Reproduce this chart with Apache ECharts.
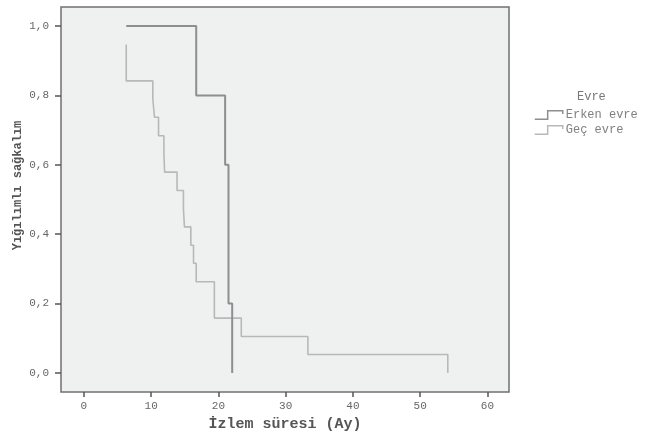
<!DOCTYPE html>
<html>
<head>
<meta charset="utf-8">
<script src="https://cdn.jsdelivr.net/npm/echarts@6/dist/echarts.min.js"></script>
<style>html,body{margin:0;padding:0;background:#fff;}#chart{width:656px;height:435px;}</style>
</head>
<body>
<div id="chart"></div>
<script>
// Kaplan-Meier data
const erkenTimes = [6.3, 16.7, 21.0, 21.5, 22.05];
const erkenSurv  = [1.0, 0.8, 0.6, 0.2, 0.0];
const gecTimes = [6.3, 6.3, 10.25, 10.5, 11.1, 11.9, 12.0, 13.85, 14.8, 14.95, 15.9, 16.3, 16.7, 19.4, 23.4, 33.3, 54.1];
const gecSurv  = [0.947, 0.842, 0.789, 0.737, 0.684, 0.632, 0.579, 0.526, 0.474, 0.421, 0.368, 0.316, 0.263, 0.158, 0.105, 0.053, 0.0];
const xTicks = [0, 10, 20, 30, 40, 50, 60];
const yTicks = [0, 0.2, 0.4, 0.6, 0.8, 1.0];
const seriesNames = ['Erken evre', 'Geç evre'];
const legendTitle = 'Evre';
const xTitle = 'İzlem süresi (Ay)';
const yTitle = 'Yığılımlı sağkalım';

const zip = (a, b) => a.map((v, i) => [v, b[i]]);
const mono = '"Liberation Mono", "DejaVu Sans Mono", monospace';
const stepIcon = 'path://M0,9 L12,9 L12,1 L26,1 L26,4';

const chart = echarts.init(document.getElementById('chart'));
chart.setOption({
  animation: false,
  backgroundColor: '#ffffff',
  title: {
    text: legendTitle, left: 572, top: 86,
    textStyle: { fontFamily: mono, fontSize: 12, fontWeight: 'normal', color: '#777' }
  },
  legend: {
    orient: 'vertical', left: 529, top: 104, itemGap: 3,
    itemWidth: 28, itemHeight: 9,
    textStyle: { fontFamily: mono, fontSize: 12, color: '#808080', padding: [0, 0, 0, -2] },
    data: [
      { name: seriesNames[0], icon: stepIcon, itemStyle: { color: 'transparent', borderColor: '#8e8e90', borderWidth: 1.5 } },
      { name: seriesNames[1], icon: stepIcon, itemStyle: { color: 'transparent', borderColor: '#b8b8ba', borderWidth: 1.5 } }
    ]
  },
  grid: {
    left: 61, top: 7, right: 147, bottom: 43,
    outerBoundsMode: 'none', containLabel: false,
    show: true, backgroundColor: '#eff0f0', borderColor: '#707070', borderWidth: 1.5
  },
  xAxis: {
    type: 'value', min: -3.4, max: 63.2,
    name: xTitle, nameLocation: 'middle', nameGap: 24,
    nameTextStyle: { fontFamily: mono, fontSize: 15, fontWeight: 'bold', color: '#555' },
    axisLine: { show: false, onZero: false },
    splitLine: { show: false },
    axisTick: { show: true, length: 5, customValues: xTicks, lineStyle: { color: '#555', width: 1.5 } },
    axisLabel: { customValues: xTicks, margin: 9, fontFamily: mono, fontSize: 11, color: '#666' }
  },
  yAxis: {
    type: 'value', min: -0.055, max: 1.055,
    name: yTitle, nameLocation: 'middle', nameGap: 37, nameRotate: 90, nameMoveOverlap: false,
    nameTextStyle: { fontFamily: mono, fontSize: 12, fontWeight: 'bold', color: '#555', padding: [0, 0, 0, 28] },
    axisLine: { show: false, onZero: false },
    splitLine: { show: false },
    axisTick: { show: true, length: 6, customValues: yTicks, lineStyle: { color: '#555', width: 1.5 } },
    axisLabel: { customValues: yTicks, margin: 12, fontFamily: mono, fontSize: 11, color: '#666',
      formatter: v => v.toFixed(1).replace('.', ',') }
  },
  series: [
    { name: seriesNames[0], type: 'line', step: 'end', showSymbol: false, symbol: 'none',
      data: zip(erkenTimes, erkenSurv), lineStyle: { color: '#8e8e90', width: 2 }, itemStyle: { color: '#8e8e90' }, z: 3 },
    { name: seriesNames[1], type: 'line', step: 'end', showSymbol: false, symbol: 'none',
      data: zip(gecTimes, gecSurv), lineStyle: { color: '#b8b8ba', width: 1.6 }, itemStyle: { color: '#b8b8ba' }, z: 2 }
  ]
});
</script>
</body>
</html>
